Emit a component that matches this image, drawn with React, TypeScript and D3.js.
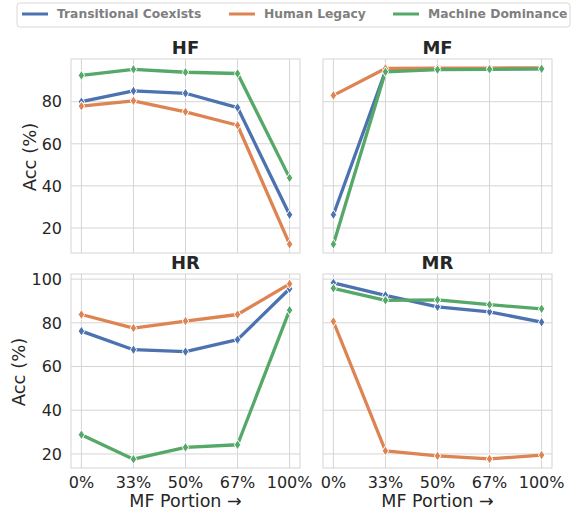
import React from 'react';
import * as d3 from 'd3';

const portions = ['0%', '33%', '50%', '67%', '100%'];
const seriesNames = ['Transitional Coexists', 'Human Legacy', 'Machine Dominance'];
const colors = ['#4c72b0', '#dd8452', '#55a868'];

// values per panel, order: Transitional, Human, Machine
const hfValues = [
  [80.0, 85.1, 84.0, 77.2, 26.3],
  [77.9, 80.4, 75.2, 68.8, 12.3],
  [92.5, 95.4, 94.0, 93.4, 43.8],
];
const mfValues = [
  [26.3, 94.6, 95.5, 95.6, 95.7],
  [83.0, 95.8, 96.0, 96.0, 96.1],
  [12.3, 94.2, 95.2, 95.4, 95.6],
];
const hrValues = [
  [76.2, 67.7, 66.8, 72.3, 95.6],
  [83.8, 77.6, 80.8, 83.8, 97.8],
  [28.8, 17.6, 23.0, 24.2, 85.8],
];
const mrValues = [
  [98.3, 92.6, 87.3, 85.0, 80.3],
  [80.6, 21.4, 19.1, 17.7, 19.5],
  [95.8, 90.3, 90.5, 88.3, 86.4],
];

const topTicks = [20, 40, 60, 80];
const bottomTicks = [20, 40, 60, 80, 100];

const W = 578;
const H = 511;
const cols = [[71, 300], [323, 552]];
const rows = [[59, 253], [274, 468]];
const grid = '#d5d5d5';
const textColor = '#262626';
const font = 'DejaVu Sans, sans-serif';
const tickSize = 16;
const labelSize = 17.5;

function rowDomain(a: number[][], b: number[][]): [number, number] {
  const all = [...a.flat(), ...b.flat()];
  const [lo, hi] = d3.extent(all) as [number, number];
  const pad = (hi - lo) * 0.05;
  return [lo - pad, hi + pad];
}

interface PanelProps {
  title: string;
  values: number[][];
  xr: number[];
  yr: number[];
  domain: [number, number];
  ticks: number[];
  showY: boolean;
  showX: boolean;
}

function Panel({ title, values, xr, yr, domain, ticks, showY, showX }: PanelProps) {
  const x = d3.scalePoint<string>().domain(portions).range([xr[0], xr[1]]).padding(0.2);
  const y = d3.scaleLinear().domain(domain).range([yr[1], yr[0]]);
  const line = d3.line<number>()
    .x((_, i) => x(portions[i])!)
    .y(d => y(d));
  const diamond = (cx: number, cy: number) =>
    `M${cx},${cy - 5}L${cx + 3.2},${cy}L${cx},${cy + 5}L${cx - 3.2},${cy}Z`;
  const cx = (xr[0] + xr[1]) / 2;

  return (
    <g>
      <rect x={xr[0]} y={yr[0]} width={xr[1] - xr[0]} height={yr[1] - yr[0]} fill="#fff" />
      {portions.map(p => (
        <line key={p} x1={x(p)} x2={x(p)} y1={yr[0]} y2={yr[1]} stroke={grid} strokeWidth={1} />
      ))}
      {ticks.map(t => (
        <line key={t} x1={xr[0]} x2={xr[1]} y1={y(t)} y2={y(t)} stroke={grid} strokeWidth={1} />
      ))}
      <rect x={xr[0]} y={yr[0]} width={xr[1] - xr[0]} height={yr[1] - yr[0]} fill="none" stroke={grid} strokeWidth={1} />
      {values.map((vals, s) => (
        <g key={s}>
          <path d={line(vals)!} fill="none" stroke={colors[s]} strokeWidth={3.3} strokeLinejoin="round" />
          {vals.map((v, i) => (
            <path key={i} d={diamond(x(portions[i])!, y(v))} fill={colors[s]} stroke="#fff" strokeWidth={1} />
          ))}
        </g>
      ))}
      <text x={cx} y={yr[0] - 5} textAnchor="middle" fontFamily={font} fontWeight="bold" fontSize={18} fill={textColor}>
        {title}
      </text>
      {showY && ticks.map(t => (
        <text key={t} x={xr[0] - 9} y={y(t)} dy="0.36em" textAnchor="end" fontFamily={font} fontSize={tickSize} fill={textColor}>
          {t}
        </text>
      ))}
      {showX && portions.map(p => (
        <text key={p} x={x(p)} y={487.5} textAnchor="middle" fontFamily={font} fontSize={tickSize} fill={textColor}>
          {p}
        </text>
      ))}
      {showX && (
        <text x={cx} y={506.5} textAnchor="middle" fontFamily={font} fontSize={labelSize} fill={textColor}>
          MF Portion →
        </text>
      )}
    </g>
  );
}

export default function App() {
  const topDomain = rowDomain(hfValues, mfValues);
  const bottomDomain = rowDomain(hrValues, mrValues);
  const legendX = [22, 229, 393];

  return (
    <svg width={W} height={H} style={{ position: 'absolute', left: 0, top: 0, background: '#fff' }}>
      <Panel title="HF" values={hfValues} xr={cols[0]} yr={rows[0]} domain={topDomain} ticks={topTicks} showY showX={false} />
      <Panel title="MF" values={mfValues} xr={cols[1]} yr={rows[0]} domain={topDomain} ticks={topTicks} showY={false} showX={false} />
      <Panel title="HR" values={hrValues} xr={cols[0]} yr={rows[1]} domain={bottomDomain} ticks={bottomTicks} showY showX />
      <Panel title="MR" values={mrValues} xr={cols[1]} yr={rows[1]} domain={bottomDomain} ticks={bottomTicks} showY={false} showX />

      <text transform="translate(36,157) rotate(-90)" textAnchor="middle" fontFamily={font} fontSize={18} fill={textColor}>Acc (%)</text>
      <text transform="translate(25,372) rotate(-90)" textAnchor="middle" fontFamily={font} fontSize={18} fill={textColor}>Acc (%)</text>

      <rect x={17} y={3} width={553} height={24} rx={3} fill="#fff" stroke="#d8d8d8" strokeWidth={1} />
      {seriesNames.map((name, i) => (
        <g key={name}>
          <line x1={legendX[i]} x2={legendX[i] + 26} y1={14} y2={14} stroke={colors[i]} strokeWidth={3} />
          <text x={legendX[i] + 35} y={14} dy="0.36em" fontFamily={font} fontWeight="bold" fontSize={12.3} fill="#7f7f7f">
            {name}
          </text>
        </g>
      ))}
    </svg>
  );
}
